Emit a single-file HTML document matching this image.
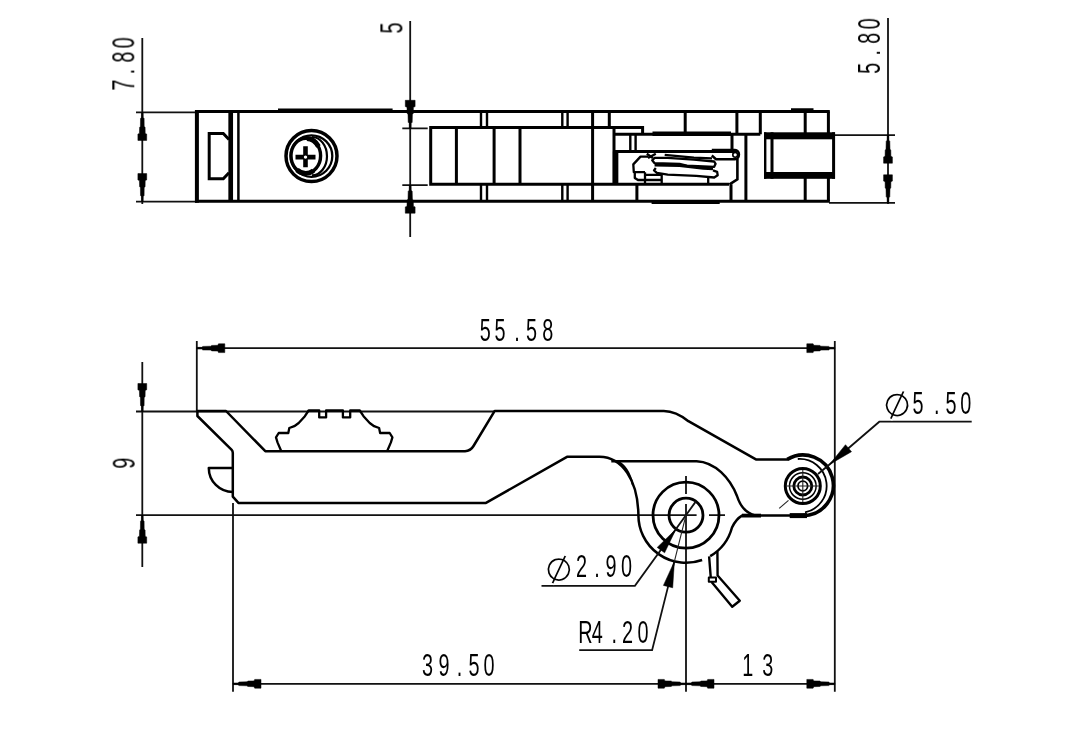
<!DOCTYPE html>
<html lang="en"><head><meta charset="utf-8"><title>Lever dimension drawing</title>
<style>
html,body{margin:0;padding:0;background:#fff;}
body{width:1091px;height:732px;overflow:hidden;}
svg{display:block;}
.k{stroke:#000;stroke-width:3;fill:none;stroke-linecap:butt;stroke-linejoin:miter;}
.m{stroke:#000;stroke-width:2.5;fill:none;stroke-linejoin:round;}
.n{stroke:#000;stroke-width:2;fill:none;stroke-linejoin:round;}
.t{stroke:#111;stroke-width:1.8;fill:none;}
.u{stroke:#222;stroke-width:1.1;fill:none;}
.a{fill:#000;stroke:#000;stroke-width:0.5;stroke-linejoin:round;}
.f{fill:#000;stroke:none;}
text{font-family:"Liberation Sans","DejaVu Sans",sans-serif;fill:#000;stroke:none;}
text.d{font-family:"DejaVu Sans","Liberation Sans",sans-serif;stroke:#fff;stroke-width:1.4;}
</style></head><body>
<svg width="1091" height="732" viewBox="0 0 1091 732">
<rect x="0" y="0" width="1091" height="732" fill="#fff"/>

<g id="topview">
<path class="t" d="M136,112.4H197 M136,201.6H197 M142.3,38V204"/>
<path class="t" d="M410.2,21V237 M402.3,128.3H427.7 M402.3,185.2H427.7"/>
<path class="t" d="M888,18V204 M834,135.2H895 M829,202.8H895"/>
<polygon class="a" points="141.5,112.4 141.4,117.4 140.5,118.4 140.4,126.4 139.6,127.2 139.4,133.4 137.9,134.1 137.9,140.4 146.7,140.4 146.7,134.1 145.2,133.4 145.1,127.2 144.2,126.4 144.1,118.4 143.2,117.4 143.1,112.4"/>
<polygon class="a" points="143.1,201.6 143.2,196.6 144.1,195.6 144.2,187.6 145.1,186.8 145.2,180.6 146.7,179.9 146.7,173.6 137.9,173.6 137.9,179.9 139.4,180.6 139.6,186.8 140.4,187.6 140.5,195.6 141.4,196.6 141.5,201.6"/>
<polygon class="a" points="411.1,128.3 411.2,123.3 412.2,122.3 412.4,114.3 413.3,113.5 413.4,107.3 415.1,106.6 415.1,100.3 405.3,100.3 405.3,106.6 407.0,107.3 407.1,113.5 408.0,114.3 408.2,122.3 409.2,123.3 409.3,128.3"/>
<polygon class="a" points="409.3,185.2 409.2,190.2 408.2,191.2 408.0,199.2 407.1,200.0 407.0,206.2 405.3,206.9 405.3,213.2 415.1,213.2 415.1,206.9 413.4,206.2 413.3,200.0 412.4,199.2 412.2,191.2 411.2,190.2 411.1,185.2"/>
<polygon class="a" points="887.2,135.2 887.1,140.2 886.2,141.2 886.0,149.2 885.2,150.0 885.1,156.2 883.6,156.9 883.6,163.2 892.4,163.2 892.4,156.9 890.9,156.2 890.8,150.0 890.0,149.2 889.8,141.2 888.9,140.2 888.8,135.2"/>
<polygon class="a" points="888.8,202.8 888.9,197.8 889.8,196.8 890.0,188.8 890.8,188.0 890.9,181.8 892.4,181.1 892.4,174.8 883.6,174.8 883.6,181.1 885.1,181.8 885.2,188.0 886.0,188.8 886.2,196.8 887.1,197.8 887.2,202.8"/>
<path class="k" d="M195,111.5 H829.8 M195,201.2 H829.8"/>
<path class="k" style="stroke-width:4" d="M196.9,110.0 V202.7"/>
<path class="k" d="M828.4,111.5 V134 M828.4,177 V201.2"/>
<path class="k" d="M278,109.9 H392.6 M791,109.7 H813.5 M651.6,202.6 H719.7"/>
<path class="k" style="stroke-width:4.7" d="M230.7,111.5 V201.2"/>
<path class="k" style="stroke-width:2.5" d="M238.4,111.5 V201.2"/>
<path class="k" d="M229,139.5 L223.3,133.5 H209.2 V178.8 H223.3 L229,172.8"/>
<circle class="k" style="stroke-width:3.5" cx="311.5" cy="156.1" r="25.5"/>
<circle class="n" style="stroke-width:2.3" cx="311.5" cy="156.1" r="20.8"/>
<ellipse class="k" style="stroke-width:3.4" cx="305.8" cy="155.8" rx="14.8" ry="17.5"/>
<path class="n" style="stroke-width:2.2" d="M312,137 A15,19.2 0 0 1 312,175.4"/>
<path class="k" style="stroke-width:5" d="M307,138.6 A14.8,17.5 0 0 1 318.5,146.5 M313.5,170.8 A14.8,17.5 0 0 1 297,169.8"/>
<path class="k" style="stroke-width:4.6" d="M295.5,157.1 H315.5 M305.5,146.3 V167.2"/>
<circle cx="305.5" cy="157.1" r="1.7" fill="#fff"/>
<path class="k" d="M430.7,127.6 H614 M430.7,184.3 H729 M430.7,126.1 V185.8 M456.4,127.6 V184.3 M494.1,127.6 V184.3 M520,127.6 V184.3 M592.6,111.5 V201.2"/>
<path class="k" style="stroke-width:2.4" d="M481,111.5 V127.6 M487,111.5 V127.6 M481,184.3 V201.2 M487,184.3 V201.2 M562.3,111.5 V127.6 M567.6,111.5 V127.6 M562.3,184.3 V201.2 M567.6,184.3 V201.2"/>
<path class="k" d="M609.3,111.5 V127.6 H642.6 V134.3"/>
<path class="k" d="M614,127.6 V184.3"/>
<path class="k" style="stroke-width:5.5" d="M615.6,151.5 V184.3"/>
<path class="k" d="M614,134.3 H760.3 M614,151.5 H737"/>
<path class="k" style="stroke-width:4.5" d="M652.5,133.8 H731"/>
<path class="k" d="M685.2,111.5 V134.3 M736.9,111.5 V134.3 M760.3,111.5 V134.3 M805.2,111.5 V133 M805.2,178 V201.2"/>
<path class="k" style="stroke-width:2.4" d="M630.3,134.3 V151.5 M635.6,134.3 V151.5"/>
<path class="k" d="M636.9,184.3 V201.2 M731,184.3 V201.2 M732,134.3 V151.5 M745.9,134.3 V201.2"/>
<path class="k" style="stroke-width:2.6" d="M737.4,159 V179.3 L729.5,184.3"/>
<path class="k" style="stroke-width:2.4" d="M711.8,150 H735 A4,4.6 0 0 1 735,159.2 H716 L711.8,155.5"/>
<circle class="k" style="stroke-width:1.6" cx="735.2" cy="154.8" r="2.4"/>
<rect class="f" x="764" y="132.3" width="71" height="7"/>
<rect class="f" x="764" y="172" width="71" height="6.8"/>
<path class="k" style="stroke-width:2.4" d="M765.2,132.3 V178.8"/>
<path class="k" d="M772,132.3 V178.8 M833.6,132.3 V178.8"/>
<g class="n" style="stroke-width:2.3">
<path d="M648,156.6 H640.5 L633.3,164.4 L633.8,172.2 H645 M634.8,172.2 V178 L638,180 H661.7 M645,172.2 V184 M645,174.8 H661.7 V184.3 M708.2,176.5 V184.3"/>
<path d="M646.8,153.7 L652.8,158 M648,158 L655.8,153.7"/>
<path d="M667.7,157.9 L654.6,157.9 L652.2,160.3 L654.6,163.2 L679.6,163.8 L686.7,165.6 L714.2,166.8 L715.6,163.8 L714.2,161.5 L693.9,159.7 Z"/>
<path style="stroke-width:3" d="M654.6,165 L679.6,165.4 L703.4,168.2 L713,168.8"/>
<path d="M713,170.4 L717.1,171.8 L717.7,175.2 L714.2,177.5 L696.3,175.8 L667.7,174.6 L656.9,172.8 L654,170.4 L655.8,168"/>
<path d="M664.7,154.9 L693.9,157.6 L712,158.3"/>
</g>
</g>
<g id="sideview">
<path class="t" d="M196.8,341 V412 M834.8,341 V691.8 M196.8,348.2 H834.8"/>
<path class="t" d="M142.3,362 V567 M136,411.5 H495 M136,515.2 H696.6 M709,515.2 H725"/>
<path class="t" d="M233,503 V691.8 M233,683.8 H834.8 M686,504 V691.8 M686,476 V494"/>
<polygon class="a" points="196.8,349.0 201.8,349.1 202.8,350.0 210.8,350.1 211.6,350.9 217.8,351.1 218.5,352.6 224.8,352.6 224.8,343.8 218.5,343.8 217.8,345.3 211.6,345.4 210.8,346.2 202.8,346.4 201.8,347.3 196.8,347.4"/>
<polygon class="a" points="834.8,347.4 829.8,347.3 828.8,346.4 820.8,346.2 820.0,345.4 813.8,345.3 813.1,343.8 806.8,343.8 806.8,352.6 813.1,352.6 813.8,351.1 820.0,350.9 820.8,350.1 828.8,350.0 829.8,349.1 834.8,349.0"/>
<polygon class="a" points="143.1,411.5 143.2,406.5 144.1,405.5 144.2,397.5 145.1,396.7 145.2,390.5 146.7,389.8 146.7,383.5 137.9,383.5 137.9,389.8 139.4,390.5 139.6,396.7 140.4,397.5 140.5,405.5 141.4,406.5 141.5,411.5"/>
<polygon class="a" points="141.5,515.2 141.4,520.2 140.5,521.2 140.4,529.2 139.6,530.0 139.4,536.2 137.9,536.9 137.9,543.2 146.7,543.2 146.7,536.9 145.2,536.2 145.1,530.0 144.2,529.2 144.1,521.2 143.2,520.2 143.1,515.2"/>
<polygon class="a" points="233.0,684.6 238.0,684.7 239.0,685.6 247.0,685.8 247.8,686.5 254.0,686.7 254.7,688.2 261.0,688.2 261.0,679.4 254.7,679.4 254.0,680.9 247.8,681.0 247.0,681.8 239.0,682.0 238.0,682.9 233.0,683.0"/>
<polygon class="a" points="686.0,683.0 681.0,682.9 680.0,682.0 672.0,681.8 671.2,681.0 665.0,680.9 664.3,679.4 658.0,679.4 658.0,688.2 664.3,688.2 665.0,686.7 671.2,686.5 672.0,685.8 680.0,685.6 681.0,684.7 686.0,684.6"/>
<polygon class="a" points="686.0,684.6 691.0,684.7 692.0,685.6 700.0,685.8 700.8,686.5 707.0,686.7 707.7,688.2 714.0,688.2 714.0,679.4 707.7,679.4 707.0,680.9 700.8,681.0 700.0,681.8 692.0,682.0 691.0,682.9 686.0,683.0"/>
<polygon class="a" points="834.8,683.0 829.8,682.9 828.8,682.0 820.8,681.8 820.0,681.0 813.8,680.9 813.1,679.4 806.8,679.4 806.8,688.2 813.1,688.2 813.8,686.7 820.0,686.5 820.8,685.8 828.8,685.6 829.8,684.7 834.8,684.6"/>
<path class="m" d="M197.4,410.9 V416 L231.7,449.9 Q232.8,451 232.8,453 V496.6 L238.4,502.9 H486 L567,456.8 H599.5 C622,457 638,480 638.4,515.2"/>
<path class="m" d="M196.5,411 H226 L265.3,451.2 H465 Q470.5,451 473.5,446 L494.7,410.9 H663.8 Q676,411 688.4,421.2 L755.9,459.4 H788"/>
<path class="m" d="M232.8,468 H208.8 A24,24 0 0 0 232.8,492"/>
<path class="m" style="stroke-width:2.3" d="M281.2,451.0 L277.5,442.4 L276.0,437.4 L278.7,433.0 L288.3,433.0 L289.3,428.0 L294.3,426.2 L298.7,423.0 L304.9,416.2 L308.6,410.5 L319.2,410.5 L319.2,417.4 L326.1,417.4 L326.1,410.5 L342.9,410.5 L342.9,417.4 L350.2,417.4 L350.2,410.5 L359.8,410.5 L363.5,416.2 L369.7,423.0 L374.1,426.2 L379.1,428.0 L380.1,433.0 L389.7,433.0 L392.4,437.4 L390.9,442.4 L387.2,451.0"/>
<path class="m" d="M638.4,515.2 A47.6,47.6 0 0 0 702.1,560.0"/>
<path class="m" d="M710.2,556.2 A47.6,47.6 0 0 0 732.0,527.5 Q736,519 742,515.6 H792"/>
<path class="m" d="M611.3,461.2 H696.6 C715,462 730,478 737,496 Q742,512 755,515.4"/>
<path class="n" style="stroke-width:1.8" d="M617.5,461.4 Q628.5,466.5 632.8,485"/>
<path class="k" style="stroke-width:3.8" d="M742,515.6 H761"/>
<circle class="k" style="stroke-width:2.8" cx="686.0" cy="515.2" r="33"/>
<circle class="k" style="stroke-width:2.8" cx="686.0" cy="515.2" r="17"/>
<path class="k" style="stroke-width:3.6" d="M787.3,459.4 A30.3,30.3 0 1 1 803,515.6"/>
<path class="n" style="stroke-width:1.8" d="M797.8,459 A27,27 0 0 1 805,512.4"/>
<path class="k" style="stroke-width:5" d="M789.7,515.6 H807"/>
<circle class="k" style="stroke-width:3" cx="802.8" cy="486.0" r="17.5"/>
<circle class="k" style="stroke-width:1.5" cx="802.8" cy="486.0" r="13.3"/>
<circle class="k" style="stroke-width:2.8" cx="802.8" cy="486.0" r="9"/>
<circle class="k" style="stroke-width:1.8" cx="802.8" cy="486.0" r="4.8"/>
<path class="u" d="M787,486 H819 M802.8,470 V502"/>
<path class="n" style="stroke-width:2.4" d="M709.1,556.4 L710.8,578 M717.4,551.5 L717.6,575.5 L739.8,600.7 L732.2,606.8 L711.6,582"/>
<path class="n" style="stroke-width:2" d="M708.8,577.4 H716 V581.8 H708.8 Z"/>
<path class="t" d="M971.7,421.7 H879.3 L829.5,464.5 L818,474"/>
<path class="u" d="M788.5,500.3 L779.2,508.3"/>
<polygon class="a" points="829.5,464.5 851.5,451.7 845.5,444.7"/>
<path class="t" d="M541.5,585.9 H634.9 L695.9,501.4"/>
<polygon class="a" points="676.1,529.0 657.2,547.4 664.6,552.8"/>
<path class="t" d="M579.2,650.2 H652.1 L674.4,561.4"/>
<path class="u" d="M674.4,561.4 L686.0,515.2"/>
<polygon class="a" points="674.4,561.4 663.4,585.4 672.7,587.8"/>
</g>
<g id="labels" style="opacity:0.999">
<text transform="translate(479.8,340.6) scale(0.62,1)" x="0.00 23.71 55.48 74.68 100.65" y="0" font-size="32">55.58</text>
<text transform="translate(422.1,676.0) scale(0.62,1)" x="0.00 26.61 55.97 74.68 99.03" y="0" font-size="32">39.50</text>
<text transform="translate(742.2,675.8) scale(0.62,1)" x="0.00 32.26" y="0" font-size="32">13</text>
<text transform="translate(576.0,577.0) scale(0.62,1)" x="0.00 29.35 47.58 72.74" y="0" font-size="32">2.90</text>
<text transform="translate(578.2,642.6) scale(0.62,1)" x="0.00 21.94 53.55 70.48 95.65" y="0" font-size="32">R4.20</text>
<text transform="translate(912.4,413.8) scale(0.62,1)" x="0.00 34.84 53.23 77.26" y="0" font-size="32">5.50</text>
<text transform="translate(134.3,90.6) rotate(-90) scale(0.62,1)" x="0.00 26.13 45.16 68.23" y="0" font-size="32">7.80</text>
<text transform="translate(402.4,33.5) rotate(-90) scale(0.62,1)" x="0.00" y="0" font-size="32">5</text>
<text transform="translate(880.0,73.8) rotate(-90) scale(0.62,1)" x="0.00 29.52 48.55 71.61" y="0" font-size="32">5.80</text>
<text transform="translate(134.7,468.7) rotate(-90) scale(0.62,1)" x="0.00" y="0" font-size="32">9</text>
<text class="d" transform="translate(0.4,-4.5) rotate(-20 558.7 569.5)" x="543" y="585" font-size="46">⌀</text>
<text class="d" transform="translate(0.4,-4.5) rotate(-20 897 405)" x="881.3" y="420.5" font-size="46">⌀</text>
</g>
</svg></body></html>
